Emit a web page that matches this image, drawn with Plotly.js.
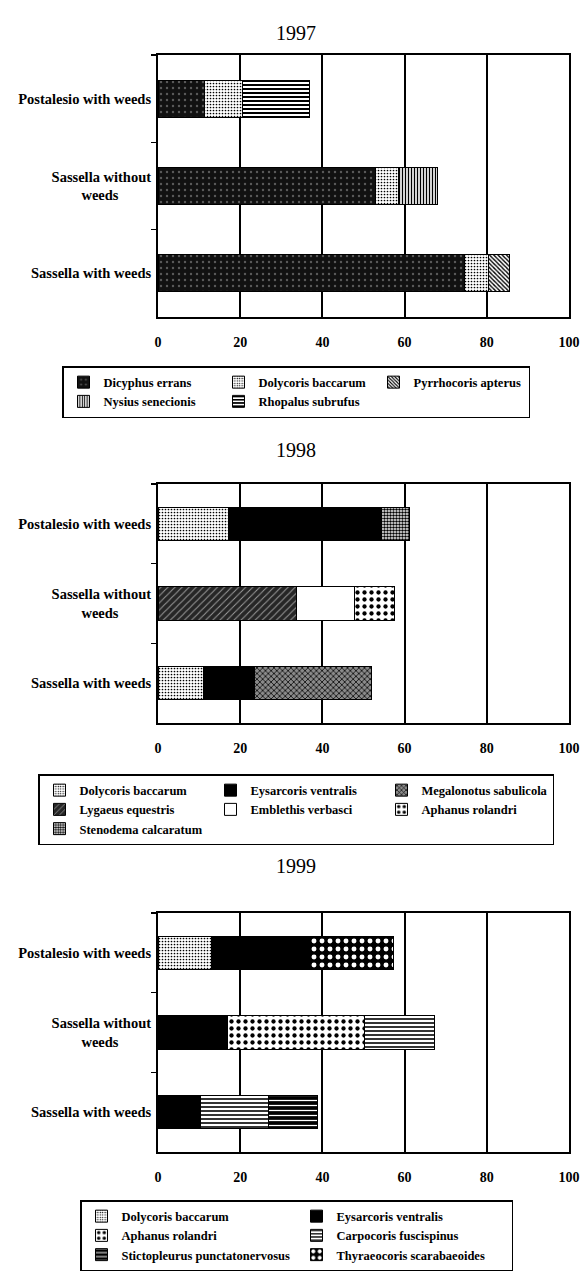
<!DOCTYPE html>
<html><head><meta charset="utf-8">
<script src="https://cdn.plot.ly/plotly-3.0.1.min.js"></script>
<style>html,body{margin:0;padding:0;background:#fff;}</style>
</head><body>
<div id="chart" style="width:583px;height:1280px;"></div>
<script>
// ---------- data ----------
const sites = ["Postalesio with weeds", "Sassella without<br>weeds\u00a0\u00a0\u00a0\u00a0\u00a0\u00a0\u00a0\u00a0\u00a0", "Sassella with weeds"];
const xTickVals = [0, 20, 40, 60, 80, 100];
const years = ["1997", "1998", "1999"];

// 1997 (order: Postalesio, Sassella without, Sassella with)
const dicyphusErrans97   = [11.3, 52.8, 74.5];
const dolycorisBacc97    = [9.3, 5.6, 6.0];
const pyrrhocorisApt97   = [null, null, 5.0];
const nysiusSenec97      = [null, 9.6, null];
const rhopalusSubr97     = [16.2, null, null];

// 1998
const dolycorisBacc98    = [17.1, null, 11.0];
const eysarcorisVent98   = [37.3, null, 12.5];
const megalonotusSab98   = [null, null, 28.5];
const lygaeusEq98        = [null, 33.7, null];
const emblethisVerb98    = [null, 14.1, null];
const aphanusRol98       = [null, 9.7, null];
const stenodemaCalc98    = [6.9, null, null];

// 1999
const dolycorisBacc99    = [13.0, null, null];
const eysarcorisVent99   = [24.0, 17.0, 10.4];
const aphanusRol99       = [null, 33.2, null];
const carpocorisFusc99   = [null, 17.0, 16.5];
const stictopleurusP99   = [null, null, 11.9];
const thyreocorisScar99  = [20.2, null, null];

// ---------- styles ----------
function pat(shape, bg, fg, size, sol){ return {shape:shape, bgcolor:bg, fgcolor:fg, size:size, solidity:sol, fillmode:'replace'}; }
const S = {
  dicyphus:   pat('.', '#111111', '#5a5a5a', 6, 0.12),
  dolycoris:  pat('.', '#ffffff', '#000000', 3, 0.25),
  pyrrho:     pat('\\', '#ffffff', '#000000', 3, 0.45),
  nysius:     pat('|', '#ffffff', '#000000', 3, 0.45),
  rhopalus:   pat('-', '#ffffff', '#000000', 4, 0.5),
  eysarcoris: pat('', '#000000', '#000000', 5, 0.3),
  megalonotus:pat('x', '#8a8a8a', '#000000', 4, 0.35),
  lygaeus:    pat('/', '#262626', '#9a9a9a', 5, 0.2),
  emblethis:  pat('', '#ffffff', '#ffffff', 5, 0.3),
  aphanus:    pat('.', '#ffffff', '#000000', 7, 0.3),
  stenodema:  pat('.', '#ffffff', '#000000', 3, 0.55),
  carpocoris: pat('-', '#ffffff', '#000000', 4, 0.4),
  sticto:     pat('-', '#000000', '#ffffff', 5, 0.25),
  thyreo:     pat('.', '#000000', '#ffffff', 8, 0.3)
};
const solidCol = {eysarcoris:'#000000', emblethis:'#ffffff'};

function bar(name, vals, style, ax, leg, key){
  const m = {line:{color:'#000', width:1}};
  if (solidCol[key]) { m.color = solidCol[key]; }
  else { m.color = style.bgcolor; m.pattern = style; }
  return {type:'bar', orientation:'h', name:name, x:vals, y:sites,
          xaxis:'x'+ax, yaxis:'y'+ax, legend:leg, marker:m, hoverinfo:'none'};
}

const data = [
  bar("Dicyphus errans", dicyphusErrans97, S.dicyphus, '', 'legend', 'dicyphus'),
  bar("Dolycoris baccarum", dolycorisBacc97, S.dolycoris, '', 'legend', 'dolycoris'),
  bar("Pyrrhocoris apterus", pyrrhocorisApt97, S.pyrrho, '', 'legend', 'pyrrho'),
  bar("Nysius senecionis", nysiusSenec97, S.nysius, '', 'legend', 'nysius'),
  bar("Rhopalus subrufus", rhopalusSubr97, S.rhopalus, '', 'legend', 'rhopalus'),

  bar("Dolycoris baccarum", dolycorisBacc98, S.dolycoris, '2', 'legend2', 'dolycoris'),
  bar("Eysarcoris ventralis", eysarcorisVent98, S.eysarcoris, '2', 'legend2', 'eysarcoris'),
  bar("Megalonotus sabulicola", megalonotusSab98, S.megalonotus, '2', 'legend2', 'megalonotus'),
  bar("Lygaeus equestris", lygaeusEq98, S.lygaeus, '2', 'legend2', 'lygaeus'),
  bar("Emblethis verbasci", emblethisVerb98, S.emblethis, '2', 'legend2', 'emblethis'),
  bar("Aphanus rolandri", aphanusRol98, S.aphanus, '2', 'legend2', 'aphanus'),
  bar("Stenodema calcaratum", stenodemaCalc98, S.stenodema, '2', 'legend2', 'stenodema'),

  bar("Dolycoris baccarum", dolycorisBacc99, S.dolycoris, '3', 'legend3', 'dolycoris'),
  bar("Eysarcoris ventralis", eysarcorisVent99, S.eysarcoris, '3', 'legend3', 'eysarcoris'),
  bar("Aphanus rolandri", aphanusRol99, S.aphanus, '3', 'legend3', 'aphanus'),
  bar("Carpocoris fuscispinus", carpocorisFusc99, S.carpocoris, '3', 'legend3', 'carpocoris'),
  bar("Stictopleurus punctatonervosus", stictopleurusP99, S.sticto, '3', 'legend3', 'sticto'),
  bar("Thyraeocoris scarabaeoides", thyreocorisScar99, S.thyreo, '3', 'legend3', 'thyreo')
];

const W = 583, H = 1280;
const FONT = "Liberation Serif";
const px = v => v / W, py = v => 1 - v / H;
const xdom = [px(158), px(569)];
const panels = [[55, 317], [484, 723], [913, 1152]];

function xax(anchor){
  return {domain:xdom, anchor:anchor, range:[0,100], tickvals:xTickVals, showgrid:true,
    gridcolor:'#000', gridwidth:2, zeroline:false, showline:true, mirror:true,
    linecolor:'#000', linewidth:2, ticks:'', ticklabelstandoff:11, fixedrange:true,
    tickfont:{family:FONT, size:14, color:'#000', weight:'bold'}};
}
function yax(anchor, p){
  return {domain:[py(p[1]), py(p[0])], anchor:anchor, autorange:'reversed', type:'category',
    showline:true, mirror:true, linecolor:'#000', linewidth:2, ticks:'outside',
    tickson:'boundaries', ticklen:5, tickcolor:'#000', tickwidth:1.5, showgrid:false,
    zeroline:false, fixedrange:true, ticklabelstandoff:2,
    tickfont:{family:FONT, size:14.5, color:'#000', weight:'bold'}};
}
function leg(x, ytop, ew, fs){
  return {orientation:'h', x:px(x), xanchor:'left', y:py(ytop), yanchor:'top',
    entrywidth:ew, entrywidthmode:'pixels', bordercolor:'#000', borderwidth:1.5,
    bgcolor:'#fff', traceorder:'normal', itemclick:false, itemdoubleclick:false,
    font:{family:FONT, size:fs, color:'#000', weight:'bold'}};
}

const layout = {
  width:W, height:H, margin:{l:0, r:0, t:0, b:0}, paper_bgcolor:'#fff', plot_bgcolor:'#fff',
  barmode:'stack', bargap:0.58, showlegend:true,
  xaxis:xax('y'), yaxis:yax('x', panels[0]),
  xaxis2:xax('y2'), yaxis2:yax('x2', panels[1]),
  xaxis3:xax('y3'), yaxis3:yax('x3', panels[2]),
  legend:leg(62, 366, 110, 12.5),
  legend2:leg(38, 774, 126, 12.5),
  legend3:leg(80, 1200, 170, 12.5),
  annotations:[
    {text:years[0], x:px(296), y:py(20), xref:'paper', yref:'paper', showarrow:false, font:{family:FONT, size:20, color:'#000'}},
    {text:years[1], x:px(296), y:py(450), xref:'paper', yref:'paper', showarrow:false, font:{family:FONT, size:20, color:'#000'}},
    {text:years[2], x:px(296), y:py(879), xref:'paper', yref:'paper', showarrow:false, font:{family:FONT, size:20, color:'#000'}}
  ]
};

Plotly.newPlot('chart', data, layout, {staticPlot:true, displayModeBar:false});
</script>
</body></html>
